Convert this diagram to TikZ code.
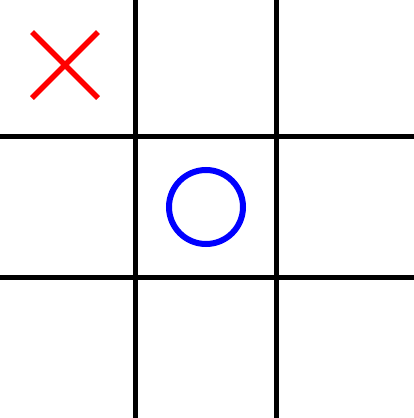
\documentclass[tikz,border=0pt]{standalone}
\usepackage{tikz}
\usetikzlibrary{calc}

\begin{document}
\begin{tikzpicture}[x=1pt, y=-1pt]
            % Canvas
            \useasboundingbox (0,0) rectangle (414,418);

            % Grid lines
            \draw[line width=5pt, black] (135.5,0) -- (135.5,418);
            \draw[line width=5pt, black] (276.5,0) -- (276.5,418);
            \draw[line width=5pt, black] (0,136) -- (414,136);
            \draw[line width=5pt, black] (0,277) -- (414,277);

            % Cross in the top left cell
            \coordinate (X) at (65,65);
            \draw[line width=5.5pt, red] ($(X)+(-33,-33)$) -- ($(X)+(33,33)$);
            \draw[line width=5.5pt, red] ($(X)+(-33,33)$) -- ($(X)+(33,-33)$);

            % Ring in the centre cell
            \coordinate (O) at (206,207);
            \draw[line width=6pt, blue] (O) circle (37pt);
        \end{tikzpicture}
\end{document}
